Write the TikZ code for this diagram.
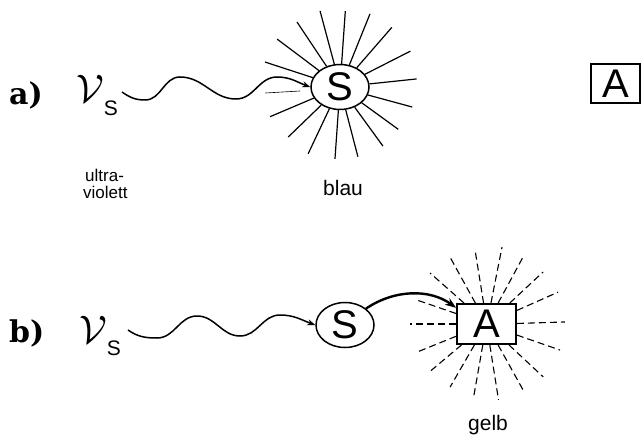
\documentclass[tikz,border=0pt]{standalone}
\usepackage{fontspec}
\setmainfont{Liberation Sans}
\newfontfamily\labfont{DejaVu Serif}
\usepackage{graphicx}
\usetikzlibrary{arrows.meta,calc,shapes.geometric}
\tikzset{
 wave/.style={line width=1.5pt, -{Stealth[length=8pt,width=6pt]}},
 thickarrow/.style={line width=2.4pt, -{Stealth[length=11pt,width=8pt]}},
 sbox/.style={draw, ellipse, line width=1.5pt, minimum width=58pt, minimum height=45pt, inner sep=0pt, font=\fontsize{40}{40}\selectfont},
 abox/.style={draw, rectangle, line width=1.8pt, minimum width=59pt, minimum height=40pt, inner sep=0pt, font=\fontsize{40}{40}\selectfont},
 ray/.style={line width=1.2pt},
 thinray/.style={line width=0.6pt},
 dray/.style={line width=1.1pt, dash pattern=on 7pt off 4pt},
 lab/.style={inner sep=0pt, anchor=base west, font=\labfont\bfseries\fontsize{30}{30}\selectfont},
 nulab/.style={inner sep=0pt, anchor=base west},
 smalltext/.style={inner sep=0pt, anchor=base west, font=\fontsize{17}{17}\selectfont},
 captext/.style={inner sep=0pt, anchor=base west, font=\fontsize{21}{21}\selectfont},
}
\newcommand{\nusym}{\scalebox{1.6}{\Huge$\mathcal{V}$}\raisebox{-12pt}{\fontsize{21}{21}\selectfont S}}
\begin{document}
\begin{tikzpicture}[x=1pt,y=1pt]
\useasboundingbox (0,0) rectangle (644,437);

% ---------- part a ----------
\node[lab] (la) at (9,332) {a)};
\node[nulab] (nua) at (76,334) {\nusym};
\coordinate (wa) at (122,345);
\node[sbox] (Sa) at (340,350) {S};
\foreach \a/\r in {104.7/78.6, 86/76, 67.7/79, 123.5/78, 49/79, 142.7/79, 27/79, 161.6/79, 6/77,
  344.5/75, 203/76, 324/72, 224/72, 306/73, 244.5/74, 284.4/72, 266/72}
  \draw[ray] (Sa.\a) -- ($(Sa.center)+(\a:\r)$);
\draw[thinray] ($(Sa.center)+(184.6:75)$) -- ($(Sa.center)+(185.7:40)$);
\draw[wave] (wa) to[out=-35,in=180] (145,337) to[out=0,in=180] (180,360)
  to[out=0,in=180] (236,338) to[out=0,in=180] (277,360) to[out=0,in=160] (Sa.west);
\node[smalltext] (uv1) at (85,256) {ultra-};
\node[smalltext] (uv2) at (83,239) {violett};
\node[captext] (blau) at (323,242) {blau};

\node[abox, minimum width=49pt, minimum height=39pt] (At) at (615.5,353.5) {A};

% ---------- part b ----------
\node[lab] (lb) at (9,95) {b)};
\node[nulab] (nub) at (79,94) {\nusym};
\coordinate (wb) at (128,107);
\node[sbox] (Sb) at (345,112) {S};
\node[abox] (Ab) at (486.5,113) {A};
\foreach \a/\r in {98.8/74.9, 78.6/78.5, 118.6/76.3, 61.4/76.3, 137.9/76.1, 42.6/76.8, 161/73.5, 24/78.3,
  180/76.5, 1.5/78.5, 202/74.9, 340.5/78, 220/74.1, 317/77.5, 240/72.8, 299/75.4, 260/75.2, 279/76.9}
  \draw[dray] (Ab.\a) -- ($(Ab.center)+(\a:\r)$);
\draw[wave] (wb) to[out=-35,in=180] (157,99) to[out=0,in=180] (197,121)
  to[out=0,in=180] (240,101) to[out=0,in=180] (280,122) to[out=0,in=160] (Sb.west);
\draw[thickarrow] (Sb.38) .. controls (395,148) and (430,148) .. (Ab.152);
\node[captext] (gelb) at (468,7) {gelb};
\end{tikzpicture}
\end{document}
